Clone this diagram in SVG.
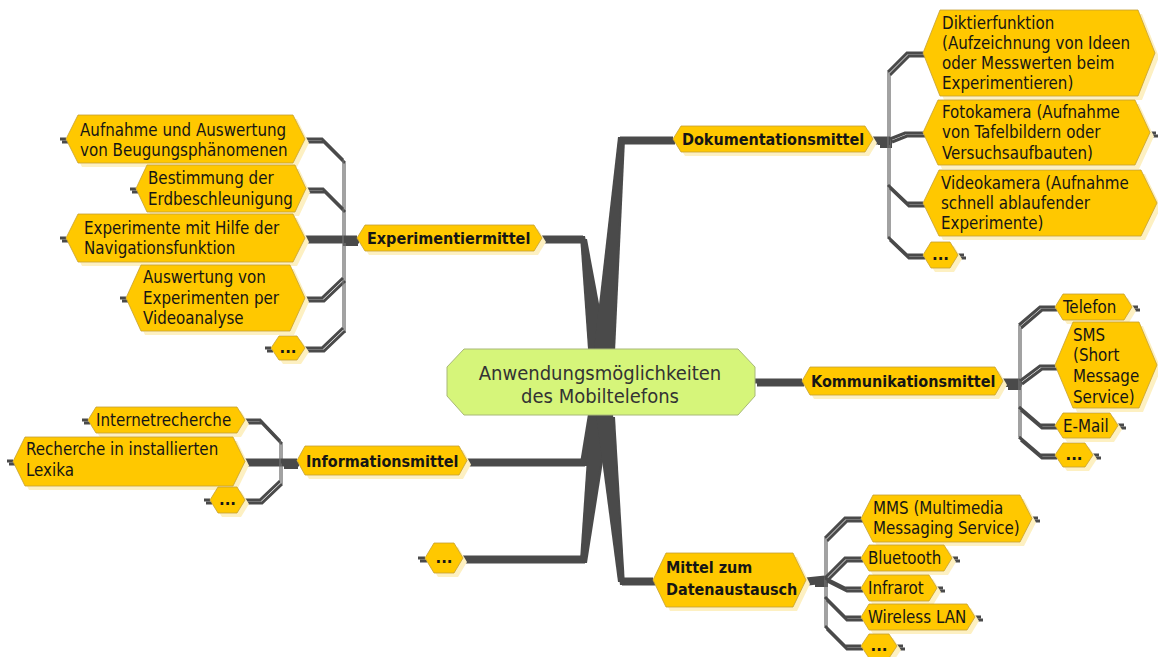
<svg xmlns="http://www.w3.org/2000/svg" xmlns:xlink="http://www.w3.org/1999/xlink" width="1158" height="657" viewBox="0 0 1158 657">
<style>
.n{fill:#ffc800;stroke:#c4a032;stroke-width:0.8}
.s{fill:#fdf0c2}
.t{font-family:"DejaVu Sans Condensed","DejaVu Sans",Verdana,sans-serif;font-stretch:condensed;font-size:16.8px;fill:#151515}
.b{font-weight:bold;font-size:16px}
.d{font-family:"DejaVu Sans",Verdana,sans-serif;font-size:15px;font-weight:bold;fill:#151515;text-anchor:middle}
.c{fill:none;stroke:#4a4a4a;stroke-width:3;stroke-linejoin:miter}
.k{fill:none;stroke:#4a4a4a;stroke-width:5}
.br{fill:none;stroke:#707070;stroke-width:1.3}
.w{fill:#4a4a4a}
.sh .c,.sh .k,.sh .br{stroke:#e2e2e2}
.sh .w{fill:#e2e2e2}
</style>
<defs>
<g id="conn">
  <path class="k" d="M542,238 H583"/>
  <polygon class="w" points="580,236 585,236 606,349 588,349"/>
  <path class="k" d="M620,139 H673"/>
  <polygon class="w" points="618,137 623,137 613,349 594,349"/>
  <path class="k" d="M467,461 H583"/>
  <polygon class="w" points="580,463 585,463 606,414 588,414"/>
  <path class="k" d="M463,558 H583"/>
  <polygon class="w" points="580,560 585,560 608,414 590,414"/>
  <path class="k" d="M620,580 H653"/>
  <polygon class="w" points="618,582 623,582 613,414 596,414"/>
  <path class="k" d="M755,381 H802"/>
  <path class="k" d="M305,238 H357"/>
  <rect class="w" x="341" y="236" width="15" height="7"/>
  <path class="br" d="M343,160 V330"/>
  <path class="c" d="M305,139 H322 L343,160"/>
  <path class="c" d="M307,189 H323 L343,209"/>
  <path class="c" d="M305,298 H322 L343,278"/>
  <path class="c" d="M305,348 H322 L343,328"/>
  <path class="c" d="M60,139 H66 M130,189 H136 M60,238 H66 M120,298 H126 M265,348 H271"/>
  <path class="k" d="M873,139 H890"/>
  <rect class="w" x="878" y="138" width="12" height="7"/>
  <path class="br" d="M888,72 V237"/>
  <path class="c" d="M923,53 H907 L888,72"/>
  <path class="c" d="M923,133 H905 L890,139"/>
  <path class="c" d="M923,203 H907 L888,185"/>
  <path class="c" d="M923,255 H907 L888,237"/>
  <path class="c" d="M1150,133 H1156 M958,255 H964"/>
  <path class="k" d="M1003,381 H1020"/>
  <rect class="w" x="1006" y="381" width="13" height="6"/>
  <path class="br" d="M1019,325 V437"/>
  <path class="c" d="M1055,307 H1040 L1019,325"/>
  <path class="c" d="M1055,366 H1040 L1020,381"/>
  <path class="c" d="M1055,425 H1040 L1019,407"/>
  <path class="c" d="M1055,455 H1040 L1019,437"/>
  <path class="c" d="M1132,307 H1138 M1118,425 H1124 M1093,455 H1099"/>
  <path class="k" d="M245,461 H297"/>
  <rect class="w" x="282" y="459" width="14" height="7"/>
  <path class="br" d="M280,441 V481"/>
  <path class="c" d="M245,420 H260 L280,441"/>
  <path class="c" d="M245,500 H260 L280,481"/>
  <path class="c" d="M82,420 H88 M7,461 H13 M204,500 H210 M418,558 H425"/>
  <path class="k" d="M806,580 L825,578"/>
  <rect class="w" x="813" y="578" width="13" height="6"/>
  <path class="br" d="M825,538 V626"/>
  <path class="c" d="M861,518 H845 L825,538"/>
  <path class="c" d="M861,558 H845 L825,578"/>
  <path class="c" d="M861,588 H845 L825,578"/>
  <path class="c" d="M861,617 H845 L825,597"/>
  <path class="c" d="M861,646 H845 L825,626"/>
  <path class="c" d="M1032,518 H1038 M952,558 H958 M937,588 H943 M975,617 H981 M897,646 H903"/>
</g>
</defs>
<rect width="1158" height="657" fill="#ffffff"/>
<g id="connectors">
  <use xlink:href="#conn" class="sh" transform="translate(2,3)"/>
  <use xlink:href="#conn"/>
</g>

<g id="center">
  <polygon points="447,367 464,349 738,349 755,367 755,396 738,415 464,415 447,396" fill="#d6f57a" stroke="#a8b878" stroke-width="1"/>
  <text font-family="DejaVu Sans Condensed,DejaVu Sans,Verdana,sans-serif" font-stretch="condensed" font-size="20" fill="#333333" text-anchor="middle"><tspan x="600" y="380">Anwendungsmöglichkeiten</tspan><tspan x="600" y="403">des Mobiltelefons</tspan></text>
</g>

<g id="experimentiermittel">
  <polygon class="s" transform="translate(4,4)" points="357,238 365,225 534,225 542,238 534,251 365,251"/>
  <polygon class="n" points="357,238 365,225 534,225 542,238 534,251 365,251"/>
  <text class="t b" x="367" y="244">Experimentiermittel</text>
</g>
<g id="aufnahme">
  <polygon class="s" transform="translate(4,4)" points="66,139 78,115 293,115 305,139 293,163 78,163"/>
  <polygon class="n" points="66,139 78,115 293,115 305,139 293,163 78,163"/>
  <text class="t"><tspan x="80" y="136">Aufnahme und Auswertung</tspan><tspan x="80" y="156">von Beugungsphänomenen</tspan></text>
</g>
<g id="bestimmung">
  <polygon class="s" transform="translate(4,4)" points="136,188.5 147,165 295,165 306,188.5 295,212 147,212"/>
  <polygon class="n" points="136,188.5 147,165 295,165 306,188.5 295,212 147,212"/>
  <text class="t"><tspan x="148" y="184">Bestimmung der</tspan><tspan x="148" y="205">Erdbeschleunigung</tspan></text>
</g>
<g id="navigation">
  <polygon class="s" transform="translate(4,4)" points="66,238 78,214 293,214 305,238 293,262 78,262"/>
  <polygon class="n" points="66,238 78,214 293,214 305,238 293,262 78,262"/>
  <text class="t"><tspan x="84" y="234">Experimente mit Hilfe der</tspan><tspan x="84" y="254">Navigationsfunktion</tspan></text>
</g>
<g id="videoanalyse">
  <polygon class="s" transform="translate(4,4)" points="126,298 141,265 290,265 305,298 290,331 141,331"/>
  <polygon class="n" points="126,298 141,265 290,265 305,298 290,331 141,331"/>
  <text class="t"><tspan x="143" y="283">Auswertung von</tspan><tspan x="143" y="304">Experimenten per</tspan><tspan x="143" y="324">Videoanalyse</tspan></text>
</g>
<g id="exp-more">
  <polygon class="s" transform="translate(4,4)" points="271,348 279,336 297,336 305,348 297,360 279,360"/>
  <polygon class="n" points="271,348 279,336 297,336 305,348 297,360 279,360"/>
  <text class="d" x="288" y="353">...</text>
</g>

<g id="dokumentationsmittel">
  <polygon class="s" transform="translate(4,4)" points="673,139 681,126 865,126 873,139 865,152 681,152"/>
  <polygon class="n" points="673,139 681,126 865,126 873,139 865,152 681,152"/>
  <text class="t b" x="682" y="145">Dokumentationsmittel</text>
</g>
<g id="diktier">
  <polygon class="s" transform="translate(4,4)" points="923,53 940,10 1138,10 1155,53 1138,96 940,96"/>
  <polygon class="n" points="923,53 940,10 1138,10 1155,53 1138,96 940,96"/>
  <text class="t"><tspan x="942" y="29">Diktierfunktion</tspan><tspan x="942" y="49">(Aufzeichnung von Ideen</tspan><tspan x="942" y="69">oder Messwerten beim</tspan><tspan x="942" y="89">Experimentieren)</tspan></text>
</g>
<g id="foto">
  <polygon class="s" transform="translate(4,4)" points="923,132.5 938,100 1135,100 1150,132.5 1135,165 938,165"/>
  <polygon class="n" points="923,132.5 938,100 1135,100 1150,132.5 1135,165 938,165"/>
  <text class="t"><tspan x="942" y="118">Fotokamera (Aufnahme</tspan><tspan x="942" y="138">von Tafelbildern oder</tspan><tspan x="942" y="159">Versuchsaufbauten)</tspan></text>
</g>
<g id="video">
  <polygon class="s" transform="translate(4,4)" points="923,203 939,170 1141,170 1157,203 1141,236 939,236"/>
  <polygon class="n" points="923,203 939,170 1141,170 1157,203 1141,236 939,236"/>
  <text class="t"><tspan x="941" y="189">Videokamera (Aufnahme</tspan><tspan x="941" y="209">schnell ablaufender</tspan><tspan x="941" y="229">Experimente)</tspan></text>
</g>
<g id="doku-more">
  <polygon class="s" transform="translate(4,4)" points="923,255 931,242 950,242 958,255 950,268 931,268"/>
  <polygon class="n" points="923,255 931,242 950,242 958,255 950,268 931,268"/>
  <text class="d" x="940.5" y="260">...</text>
</g>

<g id="kommunikationsmittel">
  <polygon class="s" transform="translate(4,4)" points="802,381 810,367 995,367 1003,381 995,395 810,395"/>
  <polygon class="n" points="802,381 810,367 995,367 1003,381 995,395 810,395"/>
  <text class="t b" x="811" y="387">Kommunikationsmittel</text>
</g>
<g id="telefon">
  <polygon class="s" transform="translate(4,4)" points="1055,307 1063,294 1124,294 1132,307 1124,320 1063,320"/>
  <polygon class="n" points="1055,307 1063,294 1124,294 1132,307 1124,320 1063,320"/>
  <text class="t" x="1063" y="313">Telefon</text>
</g>
<g id="sms">
  <polygon class="s" transform="translate(4,4)" points="1055,365 1073,322 1139,322 1157,365 1139,408 1073,408"/>
  <polygon class="n" points="1055,365 1073,322 1139,322 1157,365 1139,408 1073,408"/>
  <text class="t"><tspan x="1073" y="341">SMS</tspan><tspan x="1073" y="361">(Short</tspan><tspan x="1073" y="382">Message</tspan><tspan x="1073" y="403">Service)</tspan></text>
</g>
<g id="email">
  <polygon class="s" transform="translate(4,4)" points="1055,425.5 1063,413 1110,413 1118,425.5 1110,438 1063,438"/>
  <polygon class="n" points="1055,425.5 1063,413 1110,413 1118,425.5 1110,438 1063,438"/>
  <text class="t" x="1063" y="432">E-Mail</text>
</g>
<g id="komm-more">
  <polygon class="s" transform="translate(4,4)" points="1055,455 1063,443 1085,443 1093,455 1085,467 1063,467"/>
  <polygon class="n" points="1055,455 1063,443 1085,443 1093,455 1085,467 1063,467"/>
  <text class="d" x="1074" y="460">...</text>
</g>

<g id="informationsmittel">
  <polygon class="s" transform="translate(4,4)" points="297,460.5 305,446 459,446 467,460.5 459,475 305,475"/>
  <polygon class="n" points="297,460.5 305,446 459,446 467,460.5 459,475 305,475"/>
  <text class="t b" x="306" y="467">Informationsmittel</text>
</g>
<g id="internet">
  <polygon class="s" transform="translate(4,4)" points="88,420 96,407 237,407 245,420 237,433 96,433"/>
  <polygon class="n" points="88,420 96,407 237,407 245,420 237,433 96,433"/>
  <text class="t" x="96" y="426">Internetrecherche</text>
</g>
<g id="lexika">
  <polygon class="s" transform="translate(4,4)" points="13,461.5 25,437 233,437 245,461.5 233,486 25,486"/>
  <polygon class="n" points="13,461.5 25,437 233,437 245,461.5 233,486 25,486"/>
  <text class="t"><tspan x="26" y="455">Recherche in installierten</tspan><tspan x="26" y="476">Lexika</tspan></text>
</g>
<g id="info-more">
  <polygon class="s" transform="translate(4,4)" points="210,500 218,487 237,487 245,500 237,513 218,513"/>
  <polygon class="n" points="210,500 218,487 237,487 245,500 237,513 218,513"/>
  <text class="d" x="227.5" y="505">...</text>
</g>
<g id="more">
  <polygon class="s" transform="translate(4,4)" points="425,558 434,543 454,543 463,558 454,573 434,573"/>
  <polygon class="n" points="425,558 434,543 454,543 463,558 454,573 434,573"/>
  <text class="d" x="444" y="563">...</text>
</g>

<g id="datenaustausch">
  <polygon class="s" transform="translate(4,4)" points="653,580 666,553 793,553 806,580 793,607 666,607"/>
  <polygon class="n" points="653,580 666,553 793,553 806,580 793,607 666,607"/>
  <text class="t b"><tspan x="666" y="573">Mittel zum</tspan><tspan x="666" y="595">Datenaustausch</tspan></text>
</g>
<g id="mms">
  <polygon class="s" transform="translate(4,4)" points="861,518.5 873,495 1020,495 1032,518.5 1020,542 873,542"/>
  <polygon class="n" points="861,518.5 873,495 1020,495 1032,518.5 1020,542 873,542"/>
  <text class="t"><tspan x="873" y="514">MMS (Multimedia</tspan><tspan x="873" y="534">Messaging Service)</tspan></text>
</g>
<g id="bluetooth">
  <polygon class="s" transform="translate(4,4)" points="861,558 869,545 944,545 952,558 944,571 869,571"/>
  <polygon class="n" points="861,558 869,545 944,545 952,558 944,571 869,571"/>
  <text class="t" x="868" y="564">Bluetooth</text>
</g>
<g id="infrarot">
  <polygon class="s" transform="translate(4,4)" points="861,588 869,575 929,575 937,588 929,601 869,601"/>
  <polygon class="n" points="861,588 869,575 929,575 937,588 929,601 869,601"/>
  <text class="t" x="868" y="594">Infrarot</text>
</g>
<g id="wlan">
  <polygon class="s" transform="translate(4,4)" points="861,617 869,604 967,604 975,617 967,630 869,630"/>
  <polygon class="n" points="861,617 869,604 967,604 975,617 967,630 869,630"/>
  <text class="t" x="868" y="623">Wireless LAN</text>
</g>
<g id="daten-more">
  <polygon class="s" transform="translate(4,4)" points="861,646 869,634 889,634 897,646 889,658 869,658"/>
  <polygon class="n" points="861,646 869,634 889,634 897,646 889,658 869,658"/>
  <text class="d" x="879" y="651">...</text>
</g>
</svg>
